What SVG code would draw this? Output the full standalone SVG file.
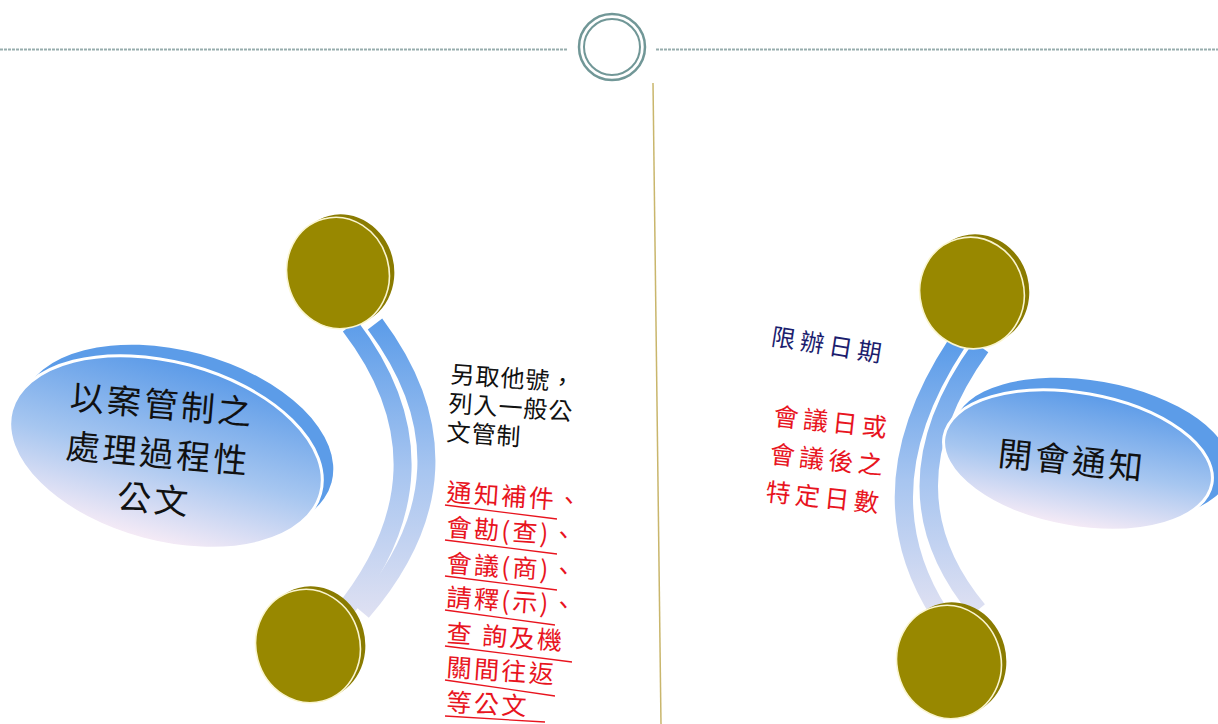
<svg xmlns="http://www.w3.org/2000/svg" width="1218" height="724" viewBox="0 0 1218 724">
<style>
.cjk{font-family:"Noto Sans CJK TC","Noto Sans CJK SC",sans-serif}
.blk{fill:#111;font-size:24px;letter-spacing:1px}
.red{fill:#e8141e;font-size:25px;letter-spacing:2.5px}
.red2{fill:#e8141e;font-size:25px;letter-spacing:4.5px}
.navy{fill:#1b1d6e;font-size:24px;letter-spacing:5px}
.big{fill:#111;font-size:34px;letter-spacing:3px}
.coinBack{fill:#8a7b00}
.coin{fill:#988800;stroke:#faf5cf;stroke-width:1.6}
.shell{fill:#5c9ce8}
.ul{stroke:#e8141e;stroke-width:1.3}
.band{fill:none;stroke-width:18}
</style>
<defs>
<linearGradient id="gL" x1="0" y1="0" x2="0" y2="1">
<stop offset="0" stop-color="#5c9be8"/>
<stop offset="0.55" stop-color="#a6c6f0"/>
<stop offset="1" stop-color="#f6ebf6"/>
</linearGradient>
<linearGradient id="bandL" gradientUnits="userSpaceOnUse" x1="0" y1="320" x2="0" y2="620">
<stop offset="0" stop-color="#5b9ce9"/>
<stop offset="0.5" stop-color="#a7c5f0"/>
<stop offset="1" stop-color="#e0e1f2"/>
</linearGradient>
<linearGradient id="bandR" gradientUnits="userSpaceOnUse" x1="0" y1="345" x2="0" y2="615">
<stop offset="0" stop-color="#5b9ce9"/>
<stop offset="0.5" stop-color="#a7c5f0"/>
<stop offset="1" stop-color="#e0e1f2"/>
</linearGradient>
</defs>
<rect width="1218" height="724" fill="#fff"/>

<g id="header">
<line x1="0" y1="49.5" x2="567" y2="49.5" stroke="#97adad" stroke-width="2" stroke-dasharray="3 1"/>
<line x1="656" y1="49.5" x2="1218" y2="49.5" stroke="#97adad" stroke-width="2" stroke-dasharray="3 1"/>
<circle cx="612" cy="47" r="33" fill="#fff" stroke="#719797" stroke-width="2.5"/>
<circle cx="612" cy="47" r="28" fill="none" stroke="#719797" stroke-width="2"/>
</g>
<line id="divider" x1="653" y1="83" x2="661" y2="724" stroke="#c9b66c" stroke-width="1.5"/>

<g id="connectors">
<path class="band" stroke="url(#bandL)" d="M350 326 Q460 470 340 616"/>
<path class="band" stroke="url(#bandL)" d="M375 324 Q484 470 362 612"/>
<path class="band" stroke="url(#bandR)" d="M957 343 Q860 490 940 614"/>
<path class="band" stroke="url(#bandR)" d="M981 347 Q878 490 978 610"/>
</g>

<g id="node-left-main">
<ellipse class="shell" cx="177" cy="441" rx="160" ry="90" transform="rotate(15 177 441)"/>
<ellipse cx="166" cy="452" rx="160" ry="90" fill="url(#gL)" stroke="#fff" stroke-width="3" transform="rotate(15 166 452)"/>
<g class="cjk big" text-anchor="middle" transform="rotate(5 158 455)">
<text x="158" y="417">以案管制之</text>
<text x="158" y="466">處理過程性</text>
<text x="158" y="512">公文</text>
</g>
</g>

<g id="node-right-main">
<ellipse class="shell" cx="1092" cy="449" rx="140" ry="68" transform="rotate(10 1092 449)"/>
<ellipse cx="1078" cy="460" rx="136" ry="67" fill="url(#gL)" stroke="#fff" stroke-width="3" transform="rotate(10 1078 460)"/>
<text class="cjk big" x="1072" y="473" text-anchor="middle" transform="rotate(6 1072 460)">開會通知</text>
</g>

<g id="coin-left-top">
<ellipse class="coinBack" cx="343" cy="270" rx="51" ry="56" transform="rotate(-15 343 270)"/>
<ellipse class="coin" cx="338" cy="273" rx="51" ry="56" transform="rotate(-15 338 273)"/>
</g>
<g id="coin-left-bottom">
<ellipse class="coinBack" cx="313" cy="643" rx="52" ry="57" transform="rotate(-15 313 643)"/>
<ellipse class="coin" cx="308" cy="646" rx="52" ry="57" transform="rotate(-15 308 646)"/>
</g>
<g id="coin-right-top">
<ellipse class="coinBack" cx="977" cy="290" rx="52" ry="56" transform="rotate(-15 977 290)"/>
<ellipse class="coin" cx="972" cy="293" rx="52" ry="56" transform="rotate(-15 972 293)"/>
</g>
<g id="coin-right-bottom">
<ellipse class="coinBack" cx="954" cy="659" rx="52" ry="57" transform="rotate(-15 954 659)"/>
<ellipse class="coin" cx="949" cy="662" rx="52" ry="57" transform="rotate(-15 949 662)"/>
</g>

<g id="label-left-black" class="cjk blk" transform="rotate(4 510 414)">
<text x="448" y="387">另取他號，</text>
<text x="448" y="416">列入一般公</text>
<text x="448" y="445">文管制</text>
</g>

<g id="label-left-red" class="cjk red">
<text x="446" y="501" transform="rotate(4 446 501)">通知補件、</text>
<text x="446" y="536" transform="rotate(4 446 536)">會勘(查)、</text>
<text x="446" y="572" transform="rotate(4 446 572)">會議(商)、</text>
<text x="446" y="606" transform="rotate(4 446 606)">請釋(示)、</text>
<text x="446" y="642" transform="rotate(4 446 642)" xml:space="preserve">查 詢及機</text>
<text x="446" y="676" transform="rotate(4 446 676)">關間往返</text>
<text x="446" y="711" transform="rotate(3 446 711)">等公文</text>
<line class="ul" x1="445" y1="505" x2="557" y2="519"/>
<line class="ul" x1="445" y1="540" x2="557" y2="554"/>
<line class="ul" x1="445" y1="576" x2="557" y2="590"/>
<line class="ul" x1="445" y1="610" x2="555" y2="625"/>
<line class="ul" x1="445" y1="646" x2="572" y2="662"/>
<line class="ul" x1="445" y1="680" x2="555" y2="696"/>
<line class="ul" x1="445" y1="716" x2="545" y2="722"/>
</g>

<g id="label-right">
<text class="cjk navy" x="829" y="354" text-anchor="middle" transform="rotate(9 829 345)">限辦日期</text>
<g class="cjk red2" text-anchor="middle" transform="rotate(6 828 465)">
<text x="828" y="431">會議日或</text>
<text x="828" y="469">會議後之</text>
<text x="828" y="507">特定日數</text>
</g>
</g>
</svg>
